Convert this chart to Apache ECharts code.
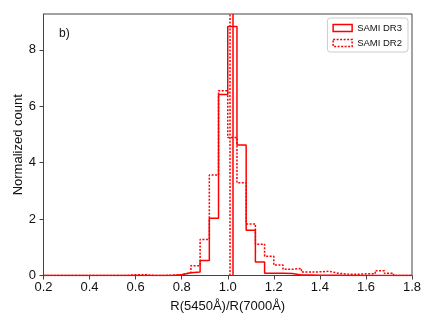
<!DOCTYPE html>
<html>
<head>
<meta charset="utf-8">
<script src="https://cdn.jsdelivr.net/npm/echarts@6/dist/echarts.min.js"></script>
<style>html,body{margin:0;padding:0;background:#fff}#c{width:436px;height:327px}</style>
</head>
<body>
<div id="c"></div>
<script>
// Histogram bins: 0.2 .. 1.8, width 0.04 (40 bins)
const binStart = 0.2;
const binWidth = 0.04;
const xTicks = [0.2, 0.4, 0.6, 0.8, 1.0, 1.2, 1.4, 1.6, 1.8];
const yTicks = [0, 2, 4, 6, 8];
const seriesNames = ['SAMI DR3', 'SAMI DR2'];
// Normalized counts per bin
const dr3 = [0,0,0,0,0,0,0,0,0,0,
             0,0,0,0,0.03,0.10,0.12,0.53,2.03,6.42,
             8.83,4.63,1.60,0.48,0.08,0.08,0.07,0.02,0.02,0.01,
             0.01,0.01,0,0,0,0,0,0,0,0];
const dr2 = [0,0,0,0,0,0,0,0,0,0.03,
             0.03,0,0,0.01,0.03,0.10,0.35,1.28,3.56,6.55,
             4.89,3.29,1.83,1.11,0.68,0.37,0.22,0.25,0.12,0.13,
             0.15,0.08,0.05,0.04,0.06,0.06,0.17,0.08,0,0];
const medians = [1.016, 1.006];

function stepPoints(vals) {
  const pts = [];
  vals.forEach((v, i) => {
    const x0 = +(binStart + i * binWidth).toFixed(4);
    const x1 = +(binStart + (i + 1) * binWidth).toFixed(4);
    pts.push([x0, v], [x1, v]);
  });
  return pts;
}

const RED = '#ff0000';
const FONT = 'Liberation Sans, Arial, sans-serif';
const chart = echarts.init(document.getElementById('c'), null, {renderer: 'canvas'});
chart.setOption({
  animation: false,
  backgroundColor: '#fff',
  textStyle: {fontFamily: FONT},
  grid: {left: 43.5, right: 24, top: 14, bottom: 51.5, show: true, borderColor: '#444', borderWidth: 1,
         backgroundColor: 'transparent', containLabel: false, outerBoundsMode: 'none'},
  title: {text: 'b)', left: 54, top: 23, textStyle: {fontSize: 12, fontWeight: 'normal', color: '#111', fontFamily: FONT}},
  legend: {
    orient: 'vertical', right: 28, top: 18,
    padding: [5, 6, 4, 5],
    itemWidth: 19, itemHeight: 7, itemGap: 5,
    borderColor: '#cccccc', borderWidth: 1, borderRadius: 3, backgroundColor: '#fff',
    textStyle: {fontSize: 9.5, color: '#111', fontFamily: FONT},
    data: [
      {name: seriesNames[0], icon: 'rect', itemStyle: {color: 'transparent', borderColor: RED, borderWidth: 1.5}},
      {name: seriesNames[1], icon: 'rect', itemStyle: {color: 'transparent', borderColor: RED, borderWidth: 1.5, borderType: [2, 1.5]}}
    ]
  },
  xAxis: {
    type: 'value', min: 0.2, max: 1.8, interval: 0.2,
    name: 'R(5450Å)/R(7000Å)', nameLocation: 'middle', nameGap: 24, nameMoveOverlap: false,
    nameTextStyle: {fontSize: 13, color: '#111', fontFamily: FONT},
    axisLine: {lineStyle: {color: '#444', width: 1}},
    axisTick: {show: true, inside: false, length: 4, lineStyle: {color: '#444'}, customValues: xTicks},
    axisLabel: {fontSize: 13, color: '#111', margin: 5, customValues: xTicks, formatter: v => v.toFixed(1)},
    splitLine: {show: false}
  },
  yAxis: {
    type: 'value', min: 0, max: 9.27,
    name: 'Normalized count', nameLocation: 'middle', nameGap: 19, nameMoveOverlap: false,
    nameTextStyle: {fontSize: 13, color: '#111', fontFamily: FONT},
    axisLine: {show: true, lineStyle: {color: '#444', width: 1}},
    axisTick: {show: true, inside: false, length: 4, lineStyle: {color: '#444'}, customValues: yTicks},
    axisLabel: {fontSize: 13, color: '#111', margin: 7.5, customValues: yTicks},
    splitLine: {show: false}
  },
  series: [
    {
      name: seriesNames[0], type: 'line', data: stepPoints(dr3), showSymbol: false, symbol: 'none',
      lineStyle: {color: RED, width: 1.5, type: 'solid'}, itemStyle: {color: RED}, z: 3,
      markLine: {silent: true, symbol: ['none', 'none'], label: {show: false},
        lineStyle: {color: RED, width: 1.5, type: 'solid'}, data: [{xAxis: medians[0]}]}
    },
    {
      name: seriesNames[1], type: 'line', data: stepPoints(dr2), showSymbol: false, symbol: 'none',
      lineStyle: {color: RED, width: 1.5, type: [2, 1.5]}, itemStyle: {color: RED}, z: 2,
      markLine: {silent: true, symbol: ['none', 'none'], label: {show: false},
        lineStyle: {color: RED, width: 1.5, type: [2, 1.5]}, data: [{xAxis: medians[1]}]}
    }
  ]
});
</script>
</body>
</html>
